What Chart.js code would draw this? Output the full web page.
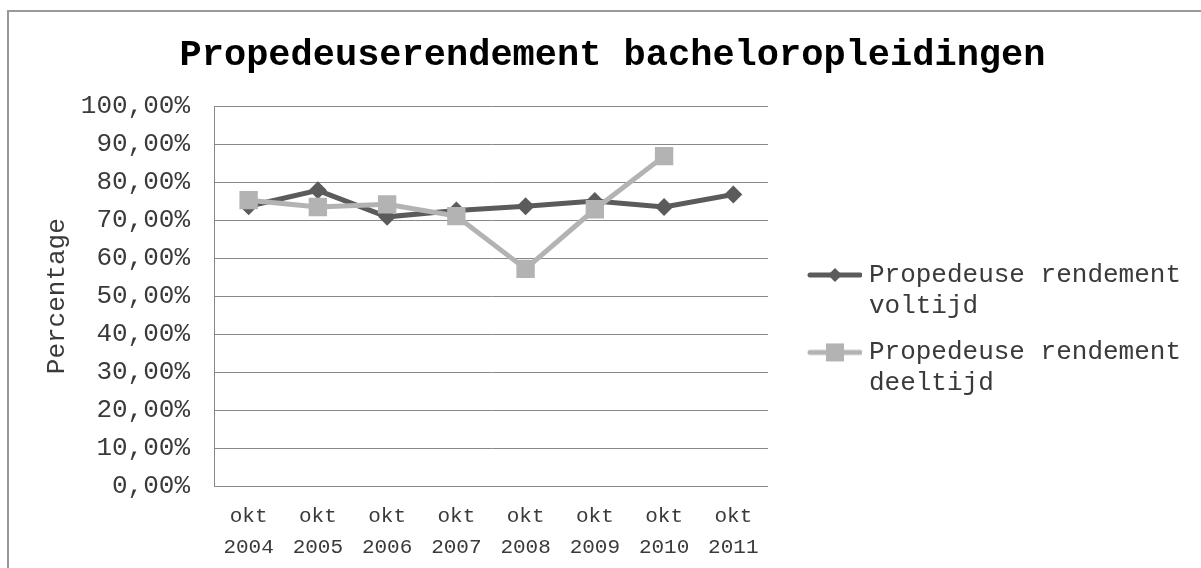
<!DOCTYPE html>
<html>
<head>
<meta charset="utf-8">
<script src="https://cdn.jsdelivr.net/npm/chart.js@4.4.1/dist/chart.umd.min.js"></script>
<style>
    html, body { margin: 0; padding: 0; background: #fff; overflow: hidden; }
    #frame { position: absolute; left: 7px; top: 10px; width: 1400px; height: 800px;
             border-left: 2px solid #999; border-top: 2px solid #999; }
    #wrap { position: absolute; left: 0; top: 0; width: 1201px; height: 568px; }
</style>
</head>
<body>
<div id="frame"></div>
<div id="wrap"><canvas id="chart" width="1201" height="568"></canvas></div>
<script>
// data (percent)
const years = ['2004', '2005', '2006', '2007', '2008', '2009', '2010', '2011'];
const voltijd = [73.7, 77.9, 70.9, 72.6, 73.7, 75.1, 73.5, 76.8];
const deeltijd = [75.3, 73.5, 74.2, 71.1, 57.2, 72.9, 86.9, null];
const seriesNames = [['Propedeuse rendement', 'voltijd'], ['Propedeuse rendement', 'deeltijd']];
const yTicks = [0, 10, 20, 30, 40, 50, 60, 70, 80, 90, 100];

const darkGray = '#5b5b5b';
const lightGray = '#b3b3b3';
const textColor = '#3a3a3a';
const fontName = '"Liberation Mono", "Courier New", monospace';

// legend glyph: line with marker in the middle
function legendIcon(color, shape) {
    const c = document.createElement('canvas');
    c.width = 85;
    c.height = 26;
    const g = c.getContext('2d');
    g.strokeStyle = color;
    g.lineWidth = 5;
    g.lineCap = 'round';
    g.beginPath();
    g.moveTo(33, 13);
    g.lineTo(83, 13);
    g.stroke();
    g.fillStyle = color;
    if (shape === 'diamond') {
        g.beginPath();
        g.moveTo(58, 6);
        g.lineTo(65, 13);
        g.lineTo(58, 20);
        g.lineTo(51, 13);
        g.closePath();
        g.fill();
    } else {
        g.fillRect(49, 4, 18, 18);
    }
    return c;
}
const legendIcons = [legendIcon(darkGray, 'diamond'), legendIcon(lightGray, 'square')];

const ctx = document.getElementById('chart').getContext('2d');
new Chart(ctx, {
    type: 'line',
    data: {
        labels: years.map(y => ['okt', y]),
        datasets: [
            {
                label: seriesNames[0].join(' '),
                data: voltijd,
                borderColor: darkGray,
                backgroundColor: darkGray,
                borderWidth: 5,
                pointStyle: 'rectRot',
                pointRadius: 9,
                pointBorderWidth: 0,
                pointBackgroundColor: darkGray,
                tension: 0,
                order: 1
            },
            {
                label: seriesNames[1].join(' '),
                data: deeltijd,
                borderColor: lightGray,
                backgroundColor: lightGray,
                borderWidth: 5,
                pointStyle: 'rect',
                pointRadius: 13,
                pointBorderWidth: 0,
                pointBackgroundColor: lightGray,
                tension: 0,
                order: 0
            }
        ]
    },
    options: {
        responsive: false,
        animation: false,
        devicePixelRatio: 1,
        layout: { padding: { left: 34, right: 10, top: 0, bottom: 0 } },
        plugins: {
            tooltip: { enabled: false },
            title: {
                display: true,
                text: 'Propedeuserendement bacheloropleidingen',
                color: '#000',
                font: { family: fontName, size: 37, weight: 'bold' },
                padding: { top: 33, bottom: 29 }
            },
            legend: {
                display: true,
                position: 'right',
                align: 'start',
                maxWidth: 600,
                // empty title only used as top spacing
                title: {
                    display: true,
                    text: ' ',
                    font: { size: 10 },
                    padding: { top: 235, bottom: 0 }
                },
                labels: {
                    usePointStyle: true,
                    pointStyleWidth: 73,
                    padding: 15,
                    color: textColor,
                    font: { family: fontName, size: 26 },
                    generateLabels: function(chart) {
                        return chart.data.datasets.map((ds, i) => ({
                            text: seriesNames[i],
                            pointStyle: legendIcons[i],
                            fillStyle: ds.borderColor,
                            strokeStyle: ds.borderColor,
                            lineWidth: 0,
                            hidden: false,
                            fontColor: textColor,
                            datasetIndex: i
                        }));
                    }
                }
            }
        },
        scales: {
            x: {
                type: 'category',
                offset: true,
                grid: { display: false, drawTicks: false },
                border: { display: true, color: '#888', width: 1 },
                ticks: {
                    color: textColor,
                    font: { family: fontName, size: 21, lineHeight: '31px' },
                    padding: 15,
                    maxRotation: 0,
                    autoSkip: false
                },
                afterFit: function(scale) { scale.height = 82; }
            },
            y: {
                min: 0,
                max: 100,
                afterBuildTicks: function(scale) {
                    scale.ticks = yTicks.map(v => ({ value: v }));
                },
                grid: { color: '#888', lineWidth: 1, drawTicks: false },
                border: { display: true, color: '#888', width: 1 },
                ticks: {
                    color: textColor,
                    font: { family: fontName, size: 26 },
                    padding: 24,
                    autoSkip: false,
                    callback: function(v) { return v.toFixed(2).replace('.', ',') + '%'; }
                },
                title: {
                    display: true,
                    text: 'Percentage',
                    color: textColor,
                    font: { family: fontName, size: 26 },
                    padding: { top: 8, bottom: 0 }
                },
                afterFit: function(scale) { scale.width = 180; }
            }
        }
    }
});
</script>
</body>
</html>
